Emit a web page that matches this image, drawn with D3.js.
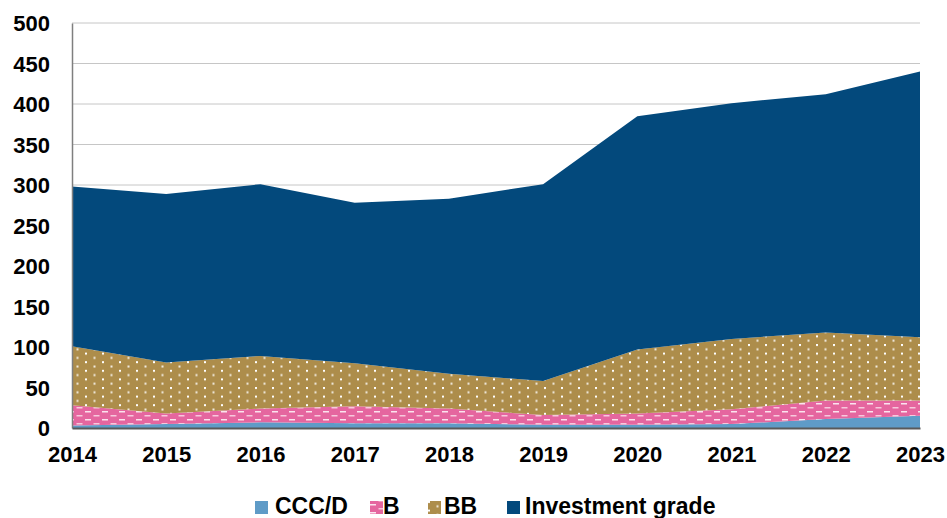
<!DOCTYPE html>
<html>
<head>
<meta charset="utf-8">
<script src="https://cdn.jsdelivr.net/npm/d3@7"></script>
<style>
  body { margin: 0; background: #fff; }
  svg text { font-family: "Liberation Sans", Arial, sans-serif; font-weight: bold; fill: #000; }
</style>
</head>
<body>
<div id="chart"></div>
<script>
// data, stacked bottom to top
const years = [2014, 2015, 2016, 2017, 2018, 2019, 2020, 2021, 2022, 2023];
const cccD = [3, 5, 7, 6, 6, 4, 4, 5, 11, 15];
const bRated = [25, 13, 17, 21, 18, 12, 14, 18, 23, 19];
const bbRated = [73, 63, 65, 53, 43, 42, 79, 87, 84, 78];
const investmentGrade = [197, 208, 212, 198, 216, 243, 288, 291, 294, 328];
const seriesNames = ["CCC/D", "B", "BB", "Investment grade"];
const yTicks = [0, 50, 100, 150, 200, 250, 300, 350, 400, 450, 500];

const width = 947, height = 518;
const margin = { left: 72, right: 27, top: 23, bottom: 90 };

// table for d3.stack
const rows = years.map((yr, i) => ({
  year: yr,
  "CCC/D": cccD[i],
  "B": bRated[i],
  "BB": bbRated[i],
  "Investment grade": investmentGrade[i]
}));

const svg = d3.select("#chart").append("svg")
  .attr("width", width).attr("height", height);

const defs = svg.append("defs");

// pink with white dashes for B
const pB = defs.append("pattern").attr("id", "patB")
  .attr("patternUnits", "userSpaceOnUse")
  .attr("width", 17).attr("height", 8).attr("y", 3);
pB.append("rect").attr("width", 17).attr("height", 8).attr("fill", "#e5669f");
pB.append("rect").attr("x", 0).attr("y", 0).attr("width", 6).attr("height", 1.5).attr("fill", "#fbe3ee");
pB.append("rect").attr("x", 8.5).attr("y", 4).attr("width", 6).attr("height", 1.5).attr("fill", "#f7c9dd");

// brown with white dots for BB
const pBB = defs.append("pattern").attr("id", "patBB")
  .attr("patternUnits", "userSpaceOnUse")
  .attr("width", 17).attr("height", 8.6);
pBB.append("rect").attr("width", 17).attr("height", 8.6).attr("fill", "#ad8d4b");
pBB.append("rect").attr("x", 0).attr("y", 0).attr("width", 2).attr("height", 2).attr("fill", "#fff");
pBB.append("rect").attr("x", 8.5).attr("y", 4.3).attr("width", 2).attr("height", 2).attr("fill", "#f2ece0");

const fills = {
  "CCC/D": "#5f9bc7",
  "B": "url(#patB)",
  "BB": "url(#patBB)",
  "Investment grade": "#03497c"
};

const x = d3.scaleLinear().domain([2014, 2023]).range([margin.left, width - margin.right]);
const y = d3.scaleLinear().domain([0, 500]).range([height - margin.bottom, margin.top]);

// gridlines
svg.append("g").selectAll("line")
  .data(yTicks.filter(t => t > 0))
  .enter().append("line")
  .attr("x1", margin.left).attr("x2", width - margin.right)
  .attr("y1", d => y(d)).attr("y2", d => y(d))
  .attr("stroke", "#c6c6c6").attr("stroke-width", 1);

const stack = d3.stack().keys(seriesNames);
const layers = stack(rows);

const area = d3.area()
  .x(d => x(d.data.year))
  .y0(d => y(d[0]))
  .y1(d => y(d[1]));

svg.append("g").selectAll("path")
  .data(layers)
  .enter().append("path")
  .attr("d", area)
  .attr("fill", d => fills[d.key]);

// axes
const yAxis = svg.append("g")
  .attr("transform", `translate(${margin.left},0)`)
  .call(d3.axisLeft(y).tickValues(yTicks).tickSize(0).tickPadding(22));
yAxis.select(".domain").attr("stroke", "#7f7f7f").attr("stroke-width", 1.5);
yAxis.selectAll("text").style("font-size", "22px").attr("dy", "0.35em");

const xAxis = svg.append("g")
  .attr("transform", `translate(0,${y(0)})`)
  .call(d3.axisBottom(x).tickValues(years).tickFormat(d3.format("d")).tickSize(0).tickPadding(18));
xAxis.select(".domain").attr("stroke", "#595959").attr("stroke-width", 2);
xAxis.selectAll("text").style("font-size", "22px");

// legend, sits right on the bottom edge like the original
const legendItems = [
  { name: "CCC/D", x: 255, gap: 20 },
  { name: "B", x: 370, gap: 13 },
  { name: "BB", x: 428, gap: 16 },
  { name: "Investment grade", x: 507, gap: 18 }
];
const lg = svg.append("g").selectAll("g")
  .data(legendItems)
  .enter().append("g")
  .attr("transform", d => `translate(${d.x},${501})`);
lg.append("rect")
  .attr("width", 13).attr("height", 13)
  .attr("fill", d => fills[d.name]);
lg.append("text")
  .attr("x", d => d.gap)
  .attr("y", 13)
  .style("font-size", "23px")
  .text(d => d.name);
</script>
</body>
</html>
